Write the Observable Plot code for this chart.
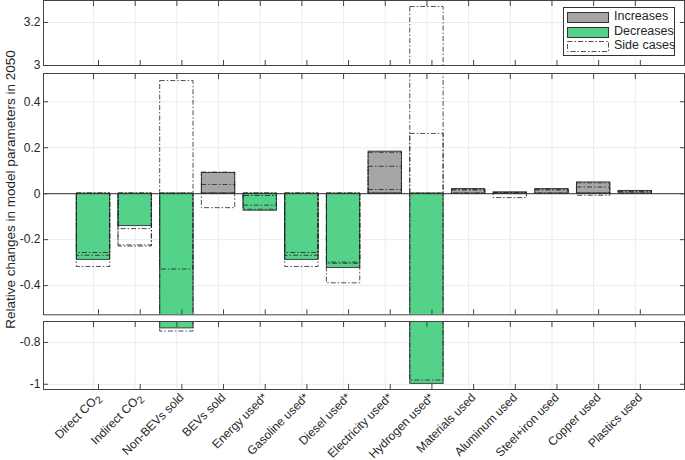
<!DOCTYPE html>
<html><head><meta charset="utf-8">
<script src="https://cdn.jsdelivr.net/npm/d3@7"></script>
<script src="https://cdn.jsdelivr.net/npm/@observablehq/plot@0.6"></script>
<style>
body{margin:0;background:#fff;}
#chart{position:relative;width:685px;height:460px;overflow:hidden;font-family:"Liberation Sans",Arial,sans-serif;background:#fff;}
#chart svg{position:absolute;left:0;}
#ylabel{position:absolute;left:-140px;top:182px;width:300px;text-align:center;font-size:13.5px;color:#262626;transform:rotate(-90deg);white-space:nowrap;}
#legend{position:absolute;left:563px;top:7px;width:110px;height:47px;border:1px solid #333;background:#fff;font-size:12.5px;color:#262626;}
.row{position:absolute;left:3px;height:12px;}
.row svg{position:absolute !important;left:0;top:0;}
.row span{position:absolute;left:47px;top:-3px;white-space:nowrap;}
</style></head><body><div id="chart"></div>
<script>
const categories = ["Direct CO₂","Indirect CO₂","Non-BEVs sold","BEVs sold","Energy used*","Gasoline used*","Diesel used*","Electricity used*","Hydrogen used*","Materials used","Aluminum used","Steel+iron used","Copper used","Plastics used"];
const mainValues = [-0.288,-0.141,-0.733,0.090,-0.074,-0.288,-0.323,0.183,-0.998,0.020,0.006,0.020,0.049,0.012];
const sideCases = [
  [-0.258,-0.270,-0.319],
  [-0.154,-0.225,-0.230],
  [0.490,-0.330,-0.748],
  [0.092,0.038,-0.063],
  [-0.010,-0.052,-0.070],
  [-0.258,-0.270,-0.319],
  [-0.300,-0.305,-0.390],
  [0.178,0.117,0.016],
  [3.272,0.260,-0.982],
  [0.017,0.014],
  [0.003,-0.019],
  [0.017,0.014],
  [0.045,0.027,-0.009],
  [0.010,0.008]
];
const legendLabels = ["Increases","Decreases","Side cases"];
const yLabel = "Relative changes in model parameters in 2050";

const incColor = "#a6a6a6", decColor = "#55d28a", textColor = "#262626";
const bars = categories.map((c,i)=>({i, c, v: mainValues[i]}));
const sides = sideCases.flatMap((arr,i)=>arr.map(v=>({i, v})));
const idx = d3.range(categories.length);

const panels = [
  {domain:[3,3.302], ticks:[3,3.2], top:0, height:66, mt:0, mb:1, labels:false},
  {domain:[-0.527,0.523], ticks:[-0.4,-0.2,0,0.2,0.4], top:70, height:247, mt:3, mb:2.7, labels:false, zero:true},
  {domain:[-1.025,-0.70], ticks:[-1,-0.8], top:319, height:141, mt:2, mb:71, labels:true}
];

const chart = document.getElementById("chart");
for (const p of panels) {
  const marks = [
    Plot.ruleY(p.ticks, {stroke:"#ebebeb"}),
    Plot.ruleX(idx, {stroke:"#ebebeb"}),
    Plot.rect(bars.filter(d=>d.v>=0), {x1:d=>d.i-0.4, x2:d=>d.i+0.4, y1:0, y2:d=>d.v, fill:incColor, stroke:"#333", strokeWidth:0.9, clip:true}),
    Plot.rect(bars.filter(d=>d.v<0), {x1:d=>d.i-0.4, x2:d=>d.i+0.4, y1:0, y2:d=>d.v, fill:decColor, stroke:"#333", strokeWidth:0.9, clip:true}),
    Plot.rect(sides, {x1:d=>d.i-0.4, x2:d=>d.i+0.4, y1:0, y2:d=>d.v, fill:"none", stroke:"#222", strokeWidth:0.8, strokeDasharray:"5,2,1.5,2", clip:true}),
  ];
  if (p.zero) marks.push(Plot.ruleY([0], {stroke:"#333", strokeWidth:1}));
  marks.push(
    Plot.frame({stroke:"#444", strokeWidth:1}),
    Plot.axisY({anchor:"left", ticks:p.ticks, tickSize:-5, tickPadding:8, tickFormat:d=>String(d), label:null, stroke:"#444", fill:textColor}),
    Plot.axisY({anchor:"right", ticks:p.ticks, tickSize:-5, tickFormat:()=>"", label:null, stroke:"#444"}),
    Plot.axisX({anchor:"top", ticks:idx, tickSize:-5, tickFormat:()=>"", label:null, stroke:"#444"}),
    Plot.axisX({anchor:"bottom", ticks:idx, tickSize:-5, tickPadding:11, tickRotate:-45, dx:5, tickFormat: p.labels ? (i=>categories[i]) : (()=>""), label:null, stroke:"#444", fill:textColor})
  );
  const svg = Plot.plot({
    width:685, height:p.height, marginLeft:43, marginRight:1, marginTop:p.mt, marginBottom:p.mb,
    style:{fontFamily:"Liberation Sans, Arial, sans-serif", fontSize:"12px", color:textColor, background:"transparent", overflow:"visible"},
    x:{type:"linear", domain:[-1.2,14.18]},
    y:{domain:p.domain},
    marks
  });
  svg.style.top = p.top + "px";
  // render the subscript "₂" as a real lowered subscript, as in the reference
  svg.querySelectorAll("text").forEach(t=>{
    if (t.textContent.includes("₂")) {
      const base = t.textContent.replace("₂","");
      t.textContent = base;
      const ts = document.createElementNS("http://www.w3.org/2000/svg","tspan");
      ts.setAttribute("dy","3");
      ts.setAttribute("font-size","10.5");
      ts.textContent = "2";
      t.appendChild(ts);
    }
  });
  chart.appendChild(svg);
}

const yl = document.createElement("div");
yl.id = "ylabel"; yl.textContent = yLabel;
chart.appendChild(yl);

const lg = document.createElement("div");
lg.id = "legend";
const swatches = [
  `<svg width="42" height="11"><rect x="0.5" y="0.5" width="41" height="10" fill="${incColor}" stroke="#333"/></svg>`,
  `<svg width="42" height="11"><rect x="0.5" y="0.5" width="41" height="10" fill="${decColor}" stroke="#333"/></svg>`,
  `<svg width="42" height="11"><rect x="0.5" y="0.5" width="41" height="10" fill="none" stroke="#222" stroke-width="0.8" stroke-dasharray="5,2,1.5,2"/></svg>`
];
legendLabels.forEach((t,k)=>{
  const r = document.createElement("div");
  r.className = "row";
  r.style.top = (4 + k*14.7) + "px";
  r.innerHTML = swatches[k] + `<span>${t}</span>`;
  lg.appendChild(r);
});
chart.appendChild(lg);
</script></body></html>
